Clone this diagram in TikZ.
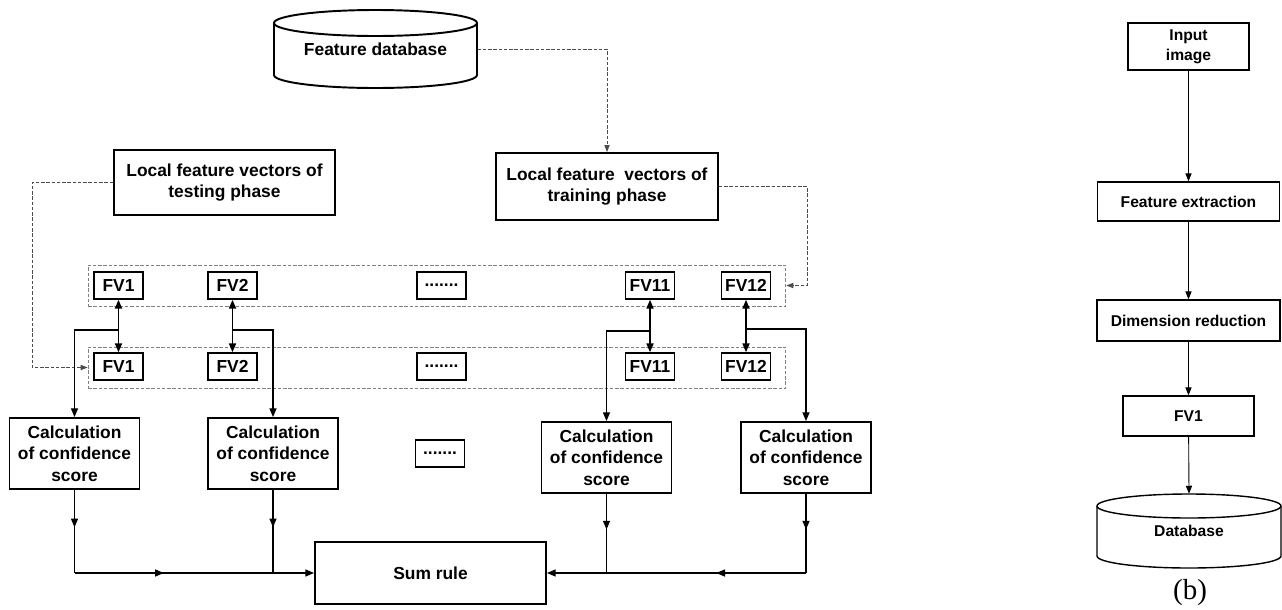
\documentclass[tikz,border=0pt]{standalone}
\usepackage{fontspec}
\setmainfont{Liberation Sans}
\newfontfamily\serifb{Liberation Serif}
\usetikzlibrary{arrows.meta,decorations.markings}

\tikzset{
  box/.style={draw,line width=1.1pt,font=\fontsize{9.9}{12.3}\selectfont\bfseries,align=center,inner sep=0pt},
  fv/.style={draw,line width=0.9pt,font=\fontsize{9.9}{12}\selectfont\bfseries,minimum width=0.98cm,minimum height=0.54cm,inner sep=0pt},
  rbox/.style={draw,line width=0.8pt,font=\fontsize{8.9}{11.3}\selectfont\bfseries,align=center,inner sep=0pt},
  row/.style={draw=gray,line width=0.5pt,dash pattern=on 2pt off 1pt,minimum width=13.96cm,minimum height=0.82cm,inner sep=0pt},
  dline/.style={draw=black!70,line width=0.5pt,dash pattern=on 2pt off 1pt,-{Triangle[length=4pt,width=3pt]}},
  link/.style={line width=0.8pt,-{Triangle[length=5pt,width=4pt]}},
  midarr/.style={line width=0.8pt,postaction={decorate},decoration={markings,mark=at position 0.45 with {\arrow{Triangle[length=5pt,width=4pt]}}}}
}

\begin{document}
\begin{tikzpicture}[x=0.02cm,y=0.02cm]
\useasboundingbox (0,0) rectangle (1282,-609);

\node[font=\fontsize{9.9}{12}\selectfont\bfseries,minimum width=4.07cm,minimum height=1.56cm,inner sep=0pt] (fdb) at (375.5,-49) {Feature database};
\draw[line width=1.1pt] (274,-23) -- (274,-75) arc[start angle=180,end angle=360,x radius=101.5,y radius=13] -- (477,-23);
\draw[line width=1.1pt] (375.5,-23) ellipse [x radius=101.5,y radius=13];

\node[box,minimum width=4.42cm,minimum height=1.3cm] (test) at (224.5,-182.5) {Local feature vectors of\\testing phase};
\node[box,minimum width=4.44cm,minimum height=1.34cm] (train) at (607,-186.5) {Local feature~ vectors of\\training phase};

\node[row] (trow) at (437,-285.5) {};
\node[row] (brow) at (437,-367.5) {};

\node[fv] (t1) at (118.5,-285.5) {FV1};
\node[fv] (t2) at (232.5,-285.5) {FV2};
\node[fv] (td) at (441.5,-285.5) {.......};
\node[fv] (t11) at (650,-285.5) {FV11};
\node[fv] (t12) at (746,-285.5) {FV12};
\node[fv] (b1) at (118.5,-366.5) {FV1};
\node[fv] (b2) at (232.5,-366.5) {FV2};
\node[fv] (bd) at (441.5,-366.5) {.......};
\node[fv] (b11) at (650,-366.5) {FV11};
\node[fv] (b12) at (746,-366.5) {FV12};

\node[box,minimum width=2.6cm,minimum height=1.42cm] (c1) at (74.5,-453.5) {Calculation\\of confidence\\score};
\node[box,minimum width=2.6cm,minimum height=1.42cm] (c2) at (273,-453.5) {Calculation\\of confidence\\score};
\node[fv] (cd) at (440,-453.5) {.......};
\node[box,minimum width=2.6cm,minimum height=1.42cm] (c3) at (606.5,-457.5) {Calculation\\of confidence\\score};
\node[box,minimum width=2.6cm,minimum height=1.42cm] (c4) at (806,-457.5) {Calculation\\of confidence\\score};

\node[box,minimum width=4.62cm,minimum height=1.24cm] (sum) at (430.5,-573) {Sum rule};

\draw[dline] (fdb.east) -| (train.north);
\draw[dline] (test.west) -- ++(-81,0) |- (brow.west);
\draw[dline] (train.east) -- ++(88,0) |- (trow.east);

\draw[{Triangle[length=5pt,width=4pt]}-{Triangle[length=5pt,width=4pt]},line width=0.9pt] (t1) -- (b1);
\draw[{Triangle[length=5pt,width=4pt]}-{Triangle[length=5pt,width=4pt]},line width=0.9pt] (t2) -- (b2);
\draw[{Triangle[length=5pt,width=4pt]}-{Triangle[length=5pt,width=4pt]},line width=0.9pt] (t11) -- (b11);
\draw[{Triangle[length=5pt,width=4pt]}-{Triangle[length=5pt,width=4pt]},line width=0.9pt] (t12) -- (b12);

\coordinate (k1) at (118.5,-330);
\coordinate (k2) at (232.5,-330);
\coordinate (k11) at (650,-331);
\coordinate (k12) at (746,-329);
\draw[link] (k1) -| (c1.north);
\draw[link] (k2) -| (c2.north);
\draw[link] (k11) -| (c3.north);
\draw[link] (k12) -| (c4.north);

\coordinate (j1) at (74.5,-573);
\coordinate (j2) at (273,-573);
\coordinate (j3) at (606.5,-573);
\coordinate (j4) at (806,-573);
\draw[midarr] (c1.south) -- (j1);
\draw[midarr] (c2.south) -- (j2);
\draw[midarr] (c3.south) -- (j3);
\draw[midarr] (c4.south) -- (j4);
\draw[midarr] (j1) -- (j2);
\draw[midarr] (j4) -- (j3);
\draw[link] (j2) -- (sum.west);
\draw[link] (j3) -- (sum.east);

\node[rbox,minimum width=2.42cm,minimum height=0.94cm] (inp) at (1188.5,-46.5) {Input\\image};
\node[rbox,minimum width=3.64cm,minimum height=0.78cm] (fex) at (1188.5,-201.5) {Feature extraction};
\node[rbox,minimum width=3.66cm,minimum height=0.82cm] (dim) at (1188.5,-320.5) {Dimension reduction};
\node[rbox,minimum width=2.62cm,minimum height=0.8cm] (fvr) at (1188.5,-416) {FV1};
\node[font=\fontsize{8.9}{11}\selectfont\bfseries,minimum width=3.68cm,minimum height=1.48cm,inner sep=0pt] (db) at (1189,-531) {Database};
\draw[line width=0.8pt] (1097,-506) -- (1097,-556) arc[start angle=180,end angle=360,x radius=92,y radius=12] -- (1281,-506);
\draw[line width=0.8pt] (1189,-506) ellipse [x radius=92,y radius=12];
\node[font=\serifb\fontsize{16.5}{18}\selectfont] (lab) at (1190,-593) {(b)};

\draw[line width=0.5pt,-{Triangle[length=4.5pt,width=3.5pt]}] (inp) -- (fex);
\draw[line width=0.5pt,-{Triangle[length=4.5pt,width=3.5pt]}] (fex) -- (dim);
\draw[line width=0.5pt,-{Triangle[length=4.5pt,width=3.5pt]}] (dim) -- (fvr);
\draw[line width=0.5pt,-{Triangle[length=4.5pt,width=3.5pt]}] (fvr) -- (db.north);
\end{tikzpicture}
\end{document}
